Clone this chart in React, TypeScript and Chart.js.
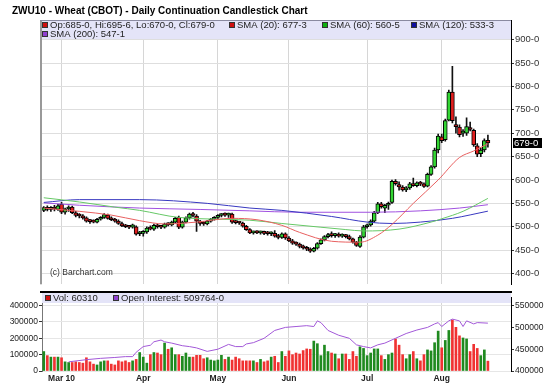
import React, { useEffect, useRef } from 'react';
import { Chart, registerables } from 'chart.js';

Chart.register(...registerables);

const FONT = '"Liberation Sans", Arial, sans-serif';
const TITLE = 'ZWU10 - Wheat (CBOT) - Daily Continuation Candlestick Chart';

// trading calendar
const START_DATE = '2010-02-22';
const HOLIDAYS = ['2010-04-02', '2010-05-31', '2010-07-05'];
const DAY_COUNT = 126;
const TRAILING_SLOTS = 6;
const MONTH_STARTS = ['2010-03-01', '2010-04-01', '2010-05-03', '2010-06-01', '2010-07-01', '2010-08-02'];
const MONTH_LABELS = ['Mar 10', 'Apr', 'May', 'Jun', 'Jul', 'Aug'];

// ticks
const PRICE_TICKS = [400, 450, 500, 550, 600, 650, 700, 750, 800, 850, 900];
const VOL_TICKS = [0, 100000, 200000, 300000, 400000];
const OI_TICKS = [400000, 450000, 500000, 550000];

// OHLC (cents/bu)
const open = [
  535, 541, 537, 540, 537, 548, 531, 538, 542, 530, 524, 522, 519, 512, 511, 510, 516, 520, 525, 518,
  515, 512, 507, 502, 500, 499, 500, 485, 486, 489, 497, 495, 503, 500, 499, 506, 504, 510, 520, 499,
  510, 519, 527, 523, 512, 507, 506, 512, 516, 520, 524, 526, 525, 527, 510, 509, 508, 501, 494, 487,
  488, 487, 488, 486, 485, 486, 480, 477, 485, 476, 470, 465, 463, 458, 455, 452, 448, 454, 464, 472,
  479, 482, 481, 483, 480, 482, 479, 474, 467, 458, 478, 500, 504, 512, 530, 549, 540, 546, 552, 597,
  590, 585, 579, 583, 590, 588, 594, 592, 587, 612, 628, 664, 692, 686, 728, 788, 716, 713, 700, 700,
  712, 706, 673, 656, 664, 685,
];
const high = [
  543, 545, 543, 546, 548, 552, 540, 545, 544, 533, 528, 526, 521, 516, 515, 518, 522, 528, 527, 521,
  518, 515, 510, 505, 503, 506, 502, 490, 492, 500, 502, 506, 506, 503, 508, 509, 512, 520, 523, 512,
  521, 529, 531, 526, 514, 511, 514, 518, 522, 526, 528, 530, 529, 529, 514, 511, 510, 503, 496, 491,
  492, 491, 491, 490, 489, 492, 484, 487, 487, 479, 473, 468, 465, 461, 458, 455, 456, 466, 474, 481,
  486, 489, 486, 487, 485, 484, 482, 476, 469, 481, 503, 506, 515, 533, 552, 552, 548, 553, 600, 601,
  596, 588, 586, 595, 604, 596, 597, 594, 615, 631, 668, 698, 698, 730, 792, 843, 735, 718, 708, 733,
  724, 709, 678, 668, 688, 695.75,
];
const low = [
  532, 534, 533, 534, 535, 528, 527, 533, 528, 521, 519, 516, 510, 507, 508, 508, 514, 518, 516, 513,
  510, 505, 500, 498, 496, 497, 482, 481, 480, 486, 493, 492, 497, 496, 497, 502, 502, 508, 496, 497,
  508, 516, 521, 490, 503, 503, 504, 510, 514, 517, 521, 522, 520, 507, 506, 505, 499, 492, 485, 484,
  485, 484, 483, 482, 481, 478, 474, 475, 473, 468, 462, 460, 455, 452, 449, 445, 446, 452, 462, 470,
  476, 478, 477, 478, 477, 476, 472, 465, 458, 456, 476, 497, 501, 510, 528, 540, 530, 537, 550, 589,
  578, 576, 575, 580, 586, 585, 588, 584, 585, 610, 625, 658, 680, 683, 726, 722, 700, 692, 693, 695,
  705, 672, 650, 650, 660, 670,
];
const close = [
  541, 537, 541, 538, 545, 531, 538, 542, 530, 524, 523, 519, 512, 511, 510, 516, 520, 526, 518, 515,
  512, 507, 502, 500, 499, 504, 484, 486, 489, 497, 495, 503, 500, 499, 506, 504, 510, 518, 499, 510,
  519, 527, 524, 512, 507, 506, 512, 516, 520, 524, 526, 525, 526, 510, 509, 508, 501, 494, 487, 488,
  487, 488, 486, 485, 486, 480, 477, 485, 476, 470, 465, 463, 458, 455, 452, 448, 454, 464, 472, 479,
  482, 481, 483, 480, 482, 479, 474, 467, 460, 478, 500, 504, 512, 530, 549, 543, 546, 550, 597, 592,
  585, 579, 583, 592, 588, 594, 591, 586, 612, 628, 664, 694, 684, 727, 788, 727, 714, 697, 703, 714,
  708, 675, 655, 664, 684, 679,
];

// volume (contracts), one per trading day
const volume = [
  119000, 94000, 85000, 85000, 85000, 81000, 56000, 52000, 52000, 56000,
  52000, 48000, 81000, 56000, 42000, 37000, 56000, 62000, 62000, 42000,
  37000, 62000, 56000, 62000, 52000, 62000, 71000, 113000, 85000, 48000,
  100000, 113000, 110000, 100000, 171000, 133000, 142000, 100000, 100000, 90000,
  110000, 85000, 85000, 96000, 96000, 75000, 81000, 67000, 62000, 67000,
  96000, 71000, 85000, 67000, 85000, 75000, 62000, 62000, 62000, 62000,
  52000, 71000, 56000, 62000, 85000, 90000, 52000, 119000, 90000, 123000,
  100000, 110000, 104000, 125000, 135000, 133000, 183000, 167000, 94000, 158000,
  119000, 110000, 104000, 75000, 104000, 104000, 71000, 119000, 90000, 148000,
  138000, 94000, 110000, 135000, 135000, 94000, 71000, 100000, 110000, 196000,
  158000, 100000, 75000, 100000, 119000, 75000, 62000, 100000, 129000, 123000,
  173000, 244000, 142000, 187000, 248000, 312000, 267000, 215000, 202000, 196000,
  119000, 163000, 138000, 94000, 129000, 60310,
];

// open interest [day index, contracts]
const openInterest: [number, number][] = [
  [7, 421000], [12, 426000], [16, 429000], [20, 431000], [23, 433000], [25, 433000], [26, 443000],
  [28, 456000], [30, 459000], [31, 467000], [33, 471000], [34, 467000], [36, 464000], [39, 458000],
  [41, 456000], [43, 453000], [46, 445000], [49, 450000], [52, 461000], [54, 456000], [56, 456000],
  [57, 462000], [59, 465000], [62, 475000], [65, 493000], [68, 500000], [71, 502000], [74, 504000],
  [76, 502000], [77, 515000], [78, 511000], [80, 493000], [83, 482000], [86, 475000], [88, 460000],
  [90, 456000], [92, 453000], [94, 460000], [96, 464000], [99, 475000], [102, 486000], [105, 494000],
  [108, 500000], [110, 508000], [111, 511000], [112, 502000], [114, 515000], [115, 519000], [117, 515000],
  [118, 502000], [119, 515000], [121, 508000], [122, 511000], [125, 509764],
];

// moving averages [day index, price]
const sma20: [number, number][] = [
  [0, 540], [10, 533], [19, 525], [27, 513], [34, 506], [43, 510], [53, 518], [60, 515], [67, 503],
  [72, 488], [81, 469], [89, 467], [94, 482], [98, 505], [104, 550], [111, 600], [117, 648], [121, 662],
  [125, 677.375],
];
const sma60: [number, number][] = [
  [0, 562], [10, 553], [20, 542], [27, 535], [38, 520], [58, 514], [67, 507], [78, 499], [85, 494],
  [90, 491], [100, 495], [109, 510], [112, 517], [118, 533], [125, 560.625],
];
const sma120: [number, number][] = [
  [0, 552], [10, 558], [27, 558], [46, 550], [58, 540], [67, 535], [81, 522], [91, 510], [98, 507],
  [106, 510], [115, 518], [125, 533.375],
];
const sma200: [number, number][] = [
  [0, 551], [10, 546], [27, 540], [44, 537], [58, 534], [72, 531], [92, 531], [106, 534], [117, 540],
  [125, 547.125],
];

function buildTradingDays(start: string, count: number, holidays: string[]) {
  const out: string[] = [];
  const d = new Date(start + 'T00:00:00Z');
  while (out.length < count) {
    const iso = d.toISOString().slice(0, 10);
    const wd = d.getUTCDay();
    if (wd !== 0 && wd !== 6 && !holidays.includes(iso)) out.push(iso);
    d.setUTCDate(d.getUTCDate() + 1);
  }
  return out;
}

function fmtEighths(v: number) {
  const whole = Math.floor(v + 1e-9);
  const e = Math.round((v - whole) * 8);
  return `${whole}-${e}`;
}

const GREEN = '#33d633';
const RED = '#e01e1e';
const LAVENDER = '#e4e4f8';

export default function App() {
  const topRef = useRef<HTMLCanvasElement>(null);
  const botRef = useRef<HTMLCanvasElement>(null);

  useEffect(() => {
    const dates = buildTradingDays(START_DATE, DAY_COUNT, HOLIDAYS);
    const labels = [...dates, ...Array.from({ length: TRAILING_SLOTS }, () => '')];
    const monthIdx = MONTH_STARTS.map((m) => dates.indexOf(m));
    const gridColor = (c: any) => (monthIdx.includes(c.index) ? '#d6d6d6' : 'rgba(0,0,0,0)');
    const pts = (arr: [number, number][]) => arr.map(([i, v]) => ({ x: dates[i], y: v }));
    const last = DAY_COUNT - 1;

    const lineDs = (data: [number, number][], color: string) => ({
      type: 'line' as const,
      data: pts(data),
      borderColor: color,
      borderWidth: 1,
      pointRadius: 0,
      cubicInterpolationMode: 'monotone' as const,
      order: 0,
    });

    const legendItem = (ctx: any, x: number, y: number, color: string, text: string) => {
      ctx.fillStyle = color;
      ctx.fillRect(x, y - 3, 6, 6);
      ctx.strokeStyle = '#333';
      ctx.lineWidth = 1;
      ctx.strokeRect(x + 0.5, y - 2.5, 5, 5);
      ctx.fillStyle = '#222';
      ctx.fillText(text, x + 8, y + 0.5);
    };

    const topOverlay = {
      id: 'topOverlay',
      afterDraw(chart: any) {
        const { ctx, chartArea: a, scales } = chart;
        ctx.save();
        ctx.textBaseline = 'middle';
        ctx.textAlign = 'left';
        ctx.fillStyle = '#000';
        ctx.font = `bold 10px ${FONT}`;
        ctx.fillText(TITLE, 12, 11);
        // frame
        ctx.fillStyle = '#999';
        ctx.fillRect(a.left - 2, a.top, 2, a.bottom - a.top);
        // legend strip
        ctx.fillStyle = LAVENDER;
        ctx.fillRect(a.left, a.top, a.right - a.left, 19);
        ctx.fillStyle = '#8a8aa0';
        ctx.fillRect(a.left - 2, a.top, a.right - a.left + 2, 1);
        ctx.font = `9.5px ${FONT}`;
        legendItem(ctx, 42, 25, '#d01010', `Op:${fmtEighths(open[last])}, Hi:${fmtEighths(high[last])}, Lo:${fmtEighths(low[last])}, Cl:${fmtEighths(close[last])}`);
        legendItem(ctx, 229, 25, '#d01010', `SMA (20): ${fmtEighths(sma20[sma20.length - 1][1])}`);
        legendItem(ctx, 322, 25, '#10b010', `SMA (60): ${fmtEighths(sma60[sma60.length - 1][1])}`);
        legendItem(ctx, 411, 25, '#1010a0', `SMA (120): ${fmtEighths(sma120[sma120.length - 1][1])}`);
        legendItem(ctx, 42, 34, '#9040d0', `SMA (200): ${fmtEighths(sma200[sma200.length - 1][1])}`);
        // watermark
        ctx.fillStyle = '#333';
        ctx.font = `8.5px ${FONT}`;
        ctx.fillText('(c) Barchart.com', 50, a.bottom - 12);
        // last price tag
        const y = scales.y.getPixelForValue(close[last]);
        ctx.fillStyle = '#000';
        ctx.fillRect(a.right + 2, Math.round(y) - 5, 29, 10);
        ctx.fillStyle = '#fff';
        ctx.font = `9.5px ${FONT}`;
        ctx.fillText(fmtEighths(close[last]), a.right + 3, y + 0.5);
        ctx.restore();
      },
    };

    const top = new Chart(topRef.current!, {
      type: 'bar',
      data: {
        labels,
        datasets: [
          lineDs(sma20, '#e86060'),
          lineDs(sma60, '#66c866'),
          lineDs(sma120, '#3838c0'),
          lineDs(sma200, '#a050e0'),
          {
            label: 'body',
            data: dates.map((_, i) => [open[i], close[i]]),
            backgroundColor: dates.map((_, i) => (close[i] >= open[i] ? GREEN : RED)),
            borderColor: '#000',
            borderWidth: 1,
            borderSkipped: false,
            barThickness: 4,
            minBarLength: 2,
            grouped: false,
            order: 1,
          } as any,
          {
            label: 'wick',
            data: dates.map((_, i) => [low[i], high[i]]),
            backgroundColor: '#111',
            barThickness: 1,
            grouped: false,
            order: 2,
          } as any,
        ],
      },
      options: {
        responsive: false,
        animation: false,
        devicePixelRatio: 1,
        layout: { padding: { left: 42, top: 20, right: 0, bottom: 0 } },
        plugins: { legend: { display: false }, tooltip: { enabled: false }, title: { display: false } },
        scales: {
          x: {
            offset: true,
            grid: { offset: false, drawTicks: false, color: gridColor },
            border: { display: false },
            ticks: { display: false, autoSkip: false },
            afterFit: (s: any) => { s.height = 0; },
          },
          y: {
            position: 'right',
            min: 377,
            max: 942,
            afterBuildTicks: (s: any) => { s.ticks = PRICE_TICKS.map((v) => ({ value: v })); },
            ticks: { callback: (v: any) => fmtEighths(Number(v)), font: { family: FONT, size: 9.5 }, color: '#333', padding: 1 },
            grid: { color: '#dedede', tickColor: '#333', tickLength: 3 },
            border: { color: '#000' },
            afterFit: (s: any) => { s.width = 39; },
          },
        },
      },
      plugins: [topOverlay],
    } as any);

    const volColors = volume.map((_, i) => {
      if (i === 0 || close[i] > close[i - 1]) return '#1f8a1f';
      if (close[i] < close[i - 1]) return '#f03232';
      return '#1a1a80';
    });

    const botOverlay = {
      id: 'botOverlay',
      afterDraw(chart: any) {
        const { ctx, chartArea: a } = chart;
        ctx.save();
        ctx.fillStyle = '#000';
        ctx.fillRect(a.left - 2, 0, a.right - a.left + 3, 2);
        ctx.fillStyle = LAVENDER;
        ctx.fillRect(a.left, 2, a.right - a.left, 10);
        ctx.textBaseline = 'middle';
        ctx.textAlign = 'left';
        ctx.font = `9.5px ${FONT}`;
        legendItem(ctx, 45, 7, '#d01010', `Vol: ${volume[last]}`);
        legendItem(ctx, 113, 7, '#9040d0', `Open Interest: ${openInterest[openInterest.length - 1][1]}-0`);
        ctx.restore();
      },
    };

    const bot = new Chart(botRef.current!, {
      type: 'bar',
      data: {
        labels,
        datasets: [
          {
            type: 'line',
            data: pts(openInterest),
            yAxisID: 'oi',
            borderColor: '#a258d8',
            borderWidth: 1,
            pointRadius: 0,
            tension: 0,
            order: 0,
          },
          {
            data: volume,
            yAxisID: 'vol',
            backgroundColor: volColors,
            barThickness: 2,
            order: 1,
          },
        ],
      },
      options: {
        responsive: false,
        animation: false,
        devicePixelRatio: 1,
        layout: { padding: { top: 2, left: 0, right: 0, bottom: 0 } },
        plugins: { legend: { display: false }, tooltip: { enabled: false } },
        scales: {
          x: {
            offset: true,
            grid: { offset: false, drawTicks: false, color: gridColor },
            border: { display: false },
            ticks: {
              autoSkip: false,
              maxRotation: 0,
              padding: 3,
              callback: (_v: any, i: number) => {
                const k = monthIdx.indexOf(i);
                return k >= 0 ? MONTH_LABELS[k] : '';
              },
              font: { family: FONT, size: 8.5, weight: 'bold' },
              color: '#222',
            },
            afterFit: (s: any) => { s.height = 20; },
          },
          vol: {
            position: 'left',
            min: 0,
            max: 452000,
            afterBuildTicks: (s: any) => { s.ticks = VOL_TICKS.map((v) => ({ value: v })); },
            ticks: { callback: (v: any) => String(v), font: { family: FONT, size: 8.5 }, color: '#222', padding: 1 },
            grid: { color: '#e6e6e6', tickColor: '#333', tickLength: 3 },
            border: { color: '#777' },
            afterFit: (s: any) => { s.width = 42; },
          },
          oi: {
            position: 'right',
            min: 400000,
            max: 569500,
            afterBuildTicks: (s: any) => { s.ticks = OI_TICKS.map((v) => ({ value: v })); },
            ticks: { callback: (v: any) => String(v), font: { family: FONT, size: 8.5 }, color: '#222', padding: 1 },
            grid: { drawOnChartArea: false, tickColor: '#333', tickLength: 3 },
            border: { color: '#000' },
            afterFit: (s: any) => { s.width = 39; },
          },
        },
      },
      plugins: [botOverlay],
    } as any);

    return () => {
      top.destroy();
      bot.destroy();
    };
  }, []);

  return (
    <div style={{ position: 'fixed', left: 0, top: 0, width: 550, height: 391, background: '#fff' }}>
      <canvas ref={topRef} width={550} height={291} style={{ position: 'absolute', left: 0, top: 0 }} />
      <canvas ref={botRef} width={550} height={100} style={{ position: 'absolute', left: 0, top: 291 }} />
    </div>
  );
}
